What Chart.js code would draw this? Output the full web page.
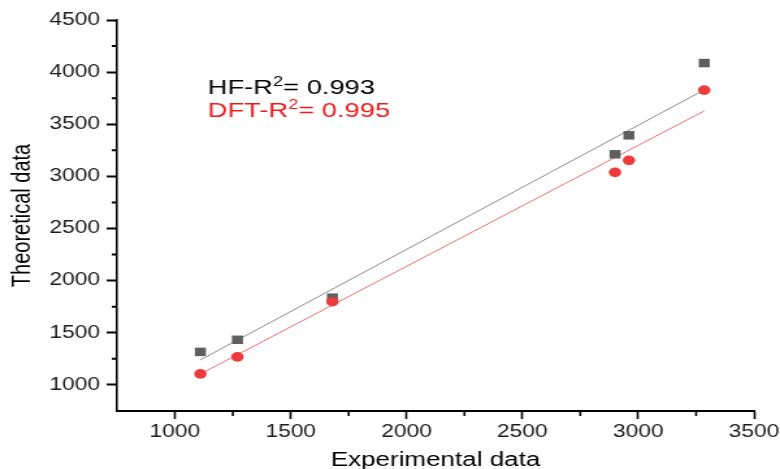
<!DOCTYPE html>
<html>
<head>
<meta charset="utf-8">
<script src="https://cdn.jsdelivr.net/npm/chart.js@4"></script>
<style>
  html, body { margin: 0; padding: 0; background: #fff; overflow: hidden; }
  #wrap { width: 780px; height: 469px; overflow: hidden; }
  /* the original figure is stretched sideways, so the canvas is too */
  #c { transform: scaleX(1.3); transform-origin: 0 0; }
</style>
</head>
<body>
<div id="wrap"><canvas id="c" width="600" height="469"></canvas></div>
<script>
const experimental = [1110, 1270, 1680, 2900, 2960, 3285];
const hfValues = [1317, 1433, 1837, 3212, 3394, 4087];
const dftValues = [1106, 1269, 1798, 3039, 3154, 3827];

// ends of the two fitted lines
const fitX = [1110, 3285];
const hfFit = [1240, 3830];
const dftFit = [1105, 3628];

const xTicks = [1000, 1500, 2000, 2500, 3000, 3500];
const yTicks = [1000, 1500, 2000, 2500, 3000, 3500, 4000, 4500];

const r2Names = ['HF-R', 'DFT-R'];
const r2Values = ['0.993', '0.995'];

const FONT = '"Liberation Sans", Arial, Helvetica, sans-serif';

const pairs = (xs, ys) => xs.map((x, i) => ({ x: x, y: ys[i] }));

// short minor ticks half way between the labelled ones
const minorTicks = {
  id: 'minorTicks',
  afterDraw(chart) {
    const { ctx, chartArea, scales: { x, y } } = chart;
    ctx.save();
    ctx.strokeStyle = '#000';
    ctx.beginPath();
    ctx.lineWidth = 1.6;
    x.ticks.forEach(t => {
      const v = t.value + 250;
      if (v < x.max) {
        const px = x.getPixelForValue(v);
        ctx.moveTo(px, chartArea.bottom);
        ctx.lineTo(px, chartArea.bottom + 5);
      }
    });
    ctx.stroke();
    ctx.beginPath();
    ctx.lineWidth = 2;
    y.ticks.forEach(t => {
      const v = t.value + 250;
      if (v < y.max) {
        const py = y.getPixelForValue(v);
        ctx.moveTo(chartArea.left, py);
        ctx.lineTo(chartArea.left - 4, py);
      }
    });
    ctx.stroke();
    ctx.restore();
  }
};

// the R² notes in the upper left
const r2Notes = {
  id: 'r2Notes',
  afterDraw(chart) {
    const { ctx, scales: { x, y } } = chart;
    const colors = ['#000000', '#ee1c1c'];
    const at = [[1142, 3789], [1142, 3567]];
    ctx.save();
    ctx.textBaseline = 'alphabetic';
    ctx.textAlign = 'left';
    r2Names.forEach((name, i) => {
      let px = x.getPixelForValue(at[i][0]);
      const py = y.getPixelForValue(at[i][1]);
      ctx.fillStyle = colors[i];
      ctx.font = '21px ' + FONT;
      ctx.fillText(name, px, py);
      px += ctx.measureText(name).width;
      ctx.font = '14px ' + FONT;
      ctx.fillText('2', px, py - 8);
      px += ctx.measureText('2').width;
      ctx.font = '21px ' + FONT;
      ctx.fillText('= ' + r2Values[i], px, py);
    });
    ctx.restore();
  }
};

new Chart(document.getElementById('c'), {
  type: 'scatter',
  data: {
    datasets: [
      {
        label: 'DFT',
        data: pairs(experimental, dftValues),
        pointStyle: 'circle',
        pointRadius: 4.8,
        backgroundColor: '#ee3a3a',
        borderWidth: 0
      },
      {
        label: 'HF',
        data: pairs(experimental, hfValues),
        pointStyle: 'rect',
        pointRadius: 6,
        backgroundColor: '#5f5f5f',
        borderWidth: 0
      },
      {
        label: 'HF fit',
        type: 'line',
        data: pairs(fitX, hfFit),
        borderColor: '#8a8a8a',
        borderWidth: 1,
        pointRadius: 0
      },
      {
        label: 'DFT fit',
        type: 'line',
        data: pairs(fitX, dftFit),
        borderColor: '#f06a6a',
        borderWidth: 1,
        pointRadius: 0
      }
    ]
  },
  options: {
    responsive: false,
    animation: false,
    events: [],
    layout: { padding: { top: 20, right: 20, left: 0, bottom: 0 } },
    plugins: {
      legend: { display: false },
      tooltip: { enabled: false }
    },
    scales: {
      x: {
        type: 'linear',
        min: 750,
        max: 3500,
        afterBuildTicks: s => { s.ticks = xTicks.map(v => ({ value: v })); },
        afterFit: s => { s.height = 58; s.paddingRight = 0; },
        grid: { drawOnChartArea: false, drawTicks: true, tickLength: 8, tickWidth: 1.6, tickColor: '#000' },
        border: { display: true, color: '#000', width: 2 },
        ticks: {
          padding: 3,
          color: '#1a1a1a',
          font: { family: FONT, size: 17.5 },
          maxRotation: 0,
          callback: v => String(v)
        },
        title: {
          display: true,
          text: 'Experimental data',
          color: '#000',
          font: { family: FONT, size: 20, lineHeight: 1 },
          padding: { top: 0, bottom: -1 }
        }
      },
      y: {
        type: 'linear',
        min: 750,
        max: 4500,
        afterBuildTicks: s => { s.ticks = yTicks.map(v => ({ value: v })); },
        afterFit: s => { s.width = 90; },
        grid: { drawOnChartArea: false, drawTicks: true, tickLength: 8, tickWidth: 2, tickColor: '#000' },
        border: { display: true, color: '#000', width: 1.6 },
        ticks: {
          padding: 5,
          color: '#1a1a1a',
          font: { family: FONT, size: 17.5 },
          callback: v => String(v)
        },
        title: {
          display: true,
          text: 'Theoretical data',
          color: '#000',
          font: { family: FONT, size: 20, lineHeight: 1 },
          padding: { top: 7, bottom: 0 }
        }
      }
    }
  },
  plugins: [minorTicks, r2Notes]
});
</script>
</body>
</html>
